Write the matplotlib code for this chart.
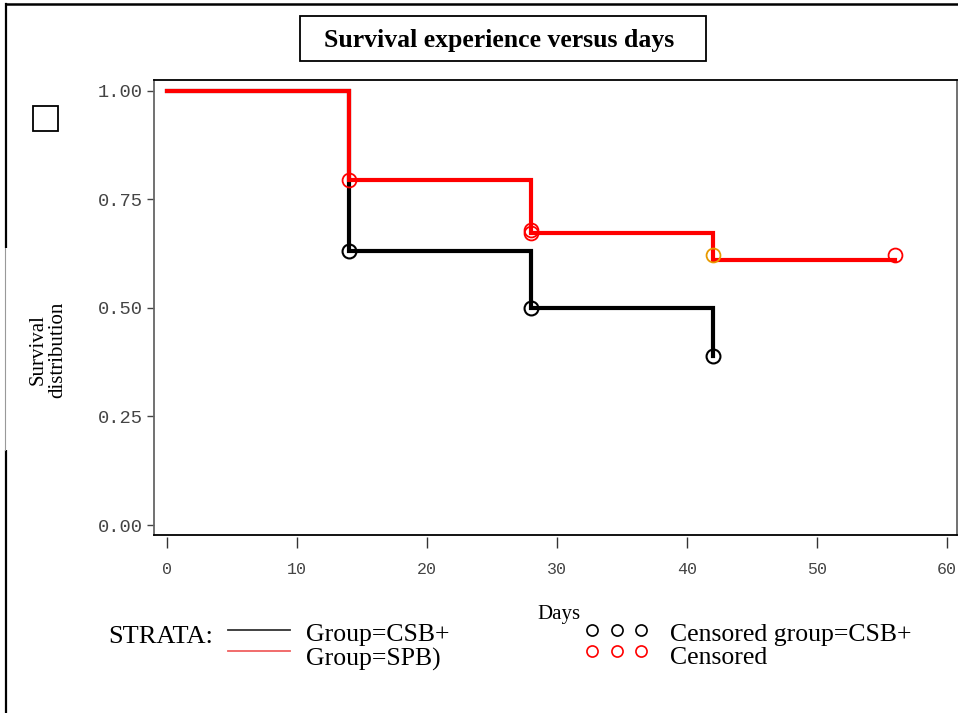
import matplotlib
matplotlib.use("Agg")
import matplotlib.pyplot as plt
from matplotlib.lines import Line2D
from matplotlib.patches import Rectangle

# ---- data ----
csb_days = [0, 14, 28, 42]
csb_surv = [1.0, 0.63, 0.50, 0.39]
spb_days = [0, 14, 28, 42, 56]
spb_surv = [1.0, 0.795, 0.672, 0.611, 0.611]

csb_cens_days = [14, 28, 42]
csb_cens_surv = [0.63, 0.50, 0.39]
spb_cens_days = [14, 28, 28, 56]
spb_cens_surv = [0.795, 0.68, 0.672, 0.622]
orange_cens_days = [42]
orange_cens_surv = [0.622]

x_ticks = [0, 10, 20, 30, 40, 50, 60]
y_ticks = [0.0, 0.25, 0.5, 0.75, 1.0]
y_tick_labels = ["0.00", "0.25", "0.50", "0.75", "1.00"]

W, H = 958, 713
fig = plt.figure(figsize=(W / 100, H / 100), dpi=100)

def fx(px):
    return px / W

def fy(py):
    return 1 - py / H

serif = "Liberation Serif"
mono = "Liberation Mono"

# figure border lines
fig.add_artist(Line2D([fx(6), fx(6)], [fy(4), fy(713)], color="black", lw=1.6,
                      transform=fig.transFigure, zorder=-3))
fig.add_artist(Line2D([fx(6), fx(958)], [fy(4), fy(4)], color="black", lw=1.8,
                      transform=fig.transFigure, zorder=-3))
# white patch behind y label
fig.add_artist(Rectangle((fx(4), fy(450)), fx(151), (450 - 248) / H, transform=fig.transFigure,
                         facecolor="white", edgecolor="none", zorder=-2))
fig.add_artist(Line2D([fx(5), fx(5)], [fy(248), fy(450)], color="#999999", lw=0.8,
                      transform=fig.transFigure, zorder=-1))

# main axes
ax = fig.add_axes([fx(154), fy(535), fx(957) - fx(154), (535 - 80) / H])
ax.set_xlim(-1.0, 60.77)
ax.set_ylim(-0.023, 1.025)

ax.step(csb_days, csb_surv, where="post", color="black", lw=3, solid_joinstyle="miter", zorder=3)
ax.step(spb_days, spb_surv, where="post", color="#ff0000", lw=3, solid_joinstyle="miter", zorder=4)

ms = 10
ax.plot(csb_cens_days, csb_cens_surv, "o", mfc="none", mec="black", mew=1.5, ms=ms, zorder=5)
ax.plot(spb_cens_days, spb_cens_surv, "o", mfc="none", mec="#ff0000", mew=1.3, ms=ms, zorder=6)
ax.plot(orange_cens_days, orange_cens_surv, "o", mfc="none", mec="#e89a00", mew=1.3, ms=ms, zorder=6)

for s in ["left", "right"]:
    ax.spines[s].set_color("#666666")
    ax.spines[s].set_linewidth(1.3)
for s in ["top", "bottom"]:
    ax.spines[s].set_color("black")
    ax.spines[s].set_linewidth(1.3)

ax.set_yticks(y_ticks)
ax.set_yticklabels(y_tick_labels, family=mono, fontsize=13.5, color="#444444")
ax.tick_params(axis="y", direction="out", length=5, width=1, color="#444444", pad=3)
ax.tick_params(axis="x", bottom=False, labelbottom=False)

sec = ax.secondary_xaxis(-0.005)
sec.spines["bottom"].set_visible(False)
sec.set_xticks(x_ticks)
sec.set_xticklabels([str(v) for v in x_ticks], family=mono, fontsize=12, color="#444444")
sec.tick_params(axis="x", direction="out", length=8, width=1, color="#333333", pad=10)

# title box
fig.add_artist(Rectangle((fx(300), fy(61)), fx(406), 45 / H, transform=fig.transFigure,
                         facecolor="white", edgecolor="black", lw=1.3))
fig.text(fx(499), fy(40), "Survival experience versus days", family=serif, weight="bold",
         fontsize=18.5, ha="center", va="center")

# small square
fig.add_artist(Rectangle((fx(33), fy(131)), fx(25), 25 / H, transform=fig.transFigure,
                         facecolor="white", edgecolor="black", lw=1.3))

# y label
fig.text(fx(48), fy(350), "Survival\ndistribution", family=serif, fontsize=15,
         rotation=90, ha="center", va="center", linespacing=1.0)

# legend area
fig.text(fx(108), fy(637), "STRATA:", family=serif, fontsize=19, ha="left", va="center")
fig.add_artist(Line2D([fx(228), fx(290)], [fy(630), fy(630)], color="#333333", lw=1.3,
                      transform=fig.transFigure))
fig.add_artist(Line2D([fx(228), fx(290)], [fy(651), fy(651)], color="#f06060", lw=1.3,
                      transform=fig.transFigure))
fig.text(fx(306), fy(635), "Group=CSB+", family=serif, fontsize=18.5, ha="left", va="center")
fig.text(fx(306), fy(659), "Group=SPB)", family=serif, fontsize=18.5, ha="left", va="center")
fig.text(fx(537), fy(614), "Days", family=serif, fontsize=15, ha="left", va="center")
for cx in [592, 617, 641]:
    fig.add_artist(Line2D([fx(cx)], [fy(630)], marker="o", ms=8, mfc="none", mec="black",
                          mew=1.2, transform=fig.transFigure))
    fig.add_artist(Line2D([fx(cx)], [fy(651)], marker="o", ms=8, mfc="none", mec="#ff0000",
                          mew=1.2, transform=fig.transFigure))
fig.text(fx(670), fy(635), "Censored group=CSB+", family=serif, fontsize=18.5, ha="left", va="center")
fig.text(fx(670), fy(658), "Censored", family=serif, fontsize=18.5, ha="left", va="center")

fig.savefig("out.png", dpi=100)
